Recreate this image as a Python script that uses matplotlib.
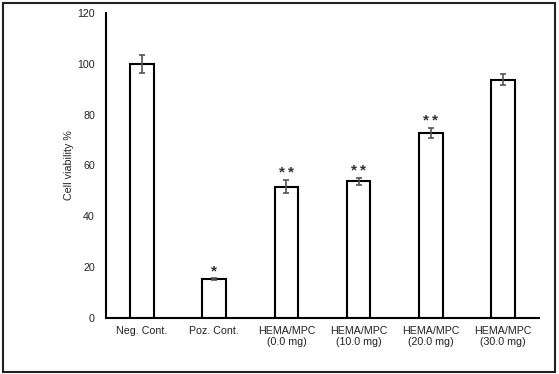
import matplotlib.pyplot as plt
from matplotlib.patches import Rectangle

plt.rcParams['font.family'] = ['Liberation Sans', 'DejaVu Sans']

# data
groups = ['Neg. Cont.', 'Poz. Cont.', 'HEMA/MPC\n(0.0 mg)', 'HEMA/MPC\n(10.0 mg)',
          'HEMA/MPC\n(20.0 mg)', 'HEMA/MPC\n(30.0 mg)']
viability = [100.0, 15.2, 51.7, 53.8, 72.8, 93.8]
errors = [3.6, 0.4, 2.6, 1.4, 2.0, 2.3]
marks = ['', '*', '**', '**', '**', '']

fig = plt.figure(figsize=(5.59, 3.74), dpi=100)
ax = fig.add_axes([106 / 559, 56 / 374, 433 / 559, 305 / 374])

x = range(len(groups))
ax.bar(x, viability, width=0.33, color='white', edgecolor='black', linewidth=1.5, zorder=2)
ax.errorbar(x, viability, yerr=errors, fmt='none', ecolor='#555555', elinewidth=1.2,
            capsize=2, capthick=1.2, zorder=3)
for i, m in enumerate(marks):
    if m:
        ax.text(i, viability[i] + errors[i] + 2.8, '\u2009'.join(m), ha='center', va='center',
                fontsize=11, fontweight='bold', color='#333333')

ax.set_xlim(-0.5, 5.5)
ax.set_ylim(0, 120)
ax.set_yticks([0, 20, 40, 60, 80, 100, 120])
ax.set_xticks(list(x))
ax.set_xticklabels(groups, fontsize=7.7, color='#222222', linespacing=1.05)
ax.tick_params(axis='y', length=0, labelsize=7.7, labelcolor='#222222', pad=8)
ax.tick_params(axis='x', length=0, pad=6)
ax.spines['top'].set_visible(False)
ax.spines['right'].set_visible(False)
ax.spines['left'].set_linewidth(1.5)
ax.spines['bottom'].set_linewidth(1.5)
ax.set_ylabel('Cell viability %', fontsize=7.7, color='#222222', labelpad=2)

# outer frame
fig.patches.append(Rectangle((3 / 559, 2 / 374), 552 / 559, 369 / 374, transform=fig.transFigure,
                             fill=False, edgecolor='#222222', linewidth=1.5))

fig.savefig('out.png', dpi=100)
